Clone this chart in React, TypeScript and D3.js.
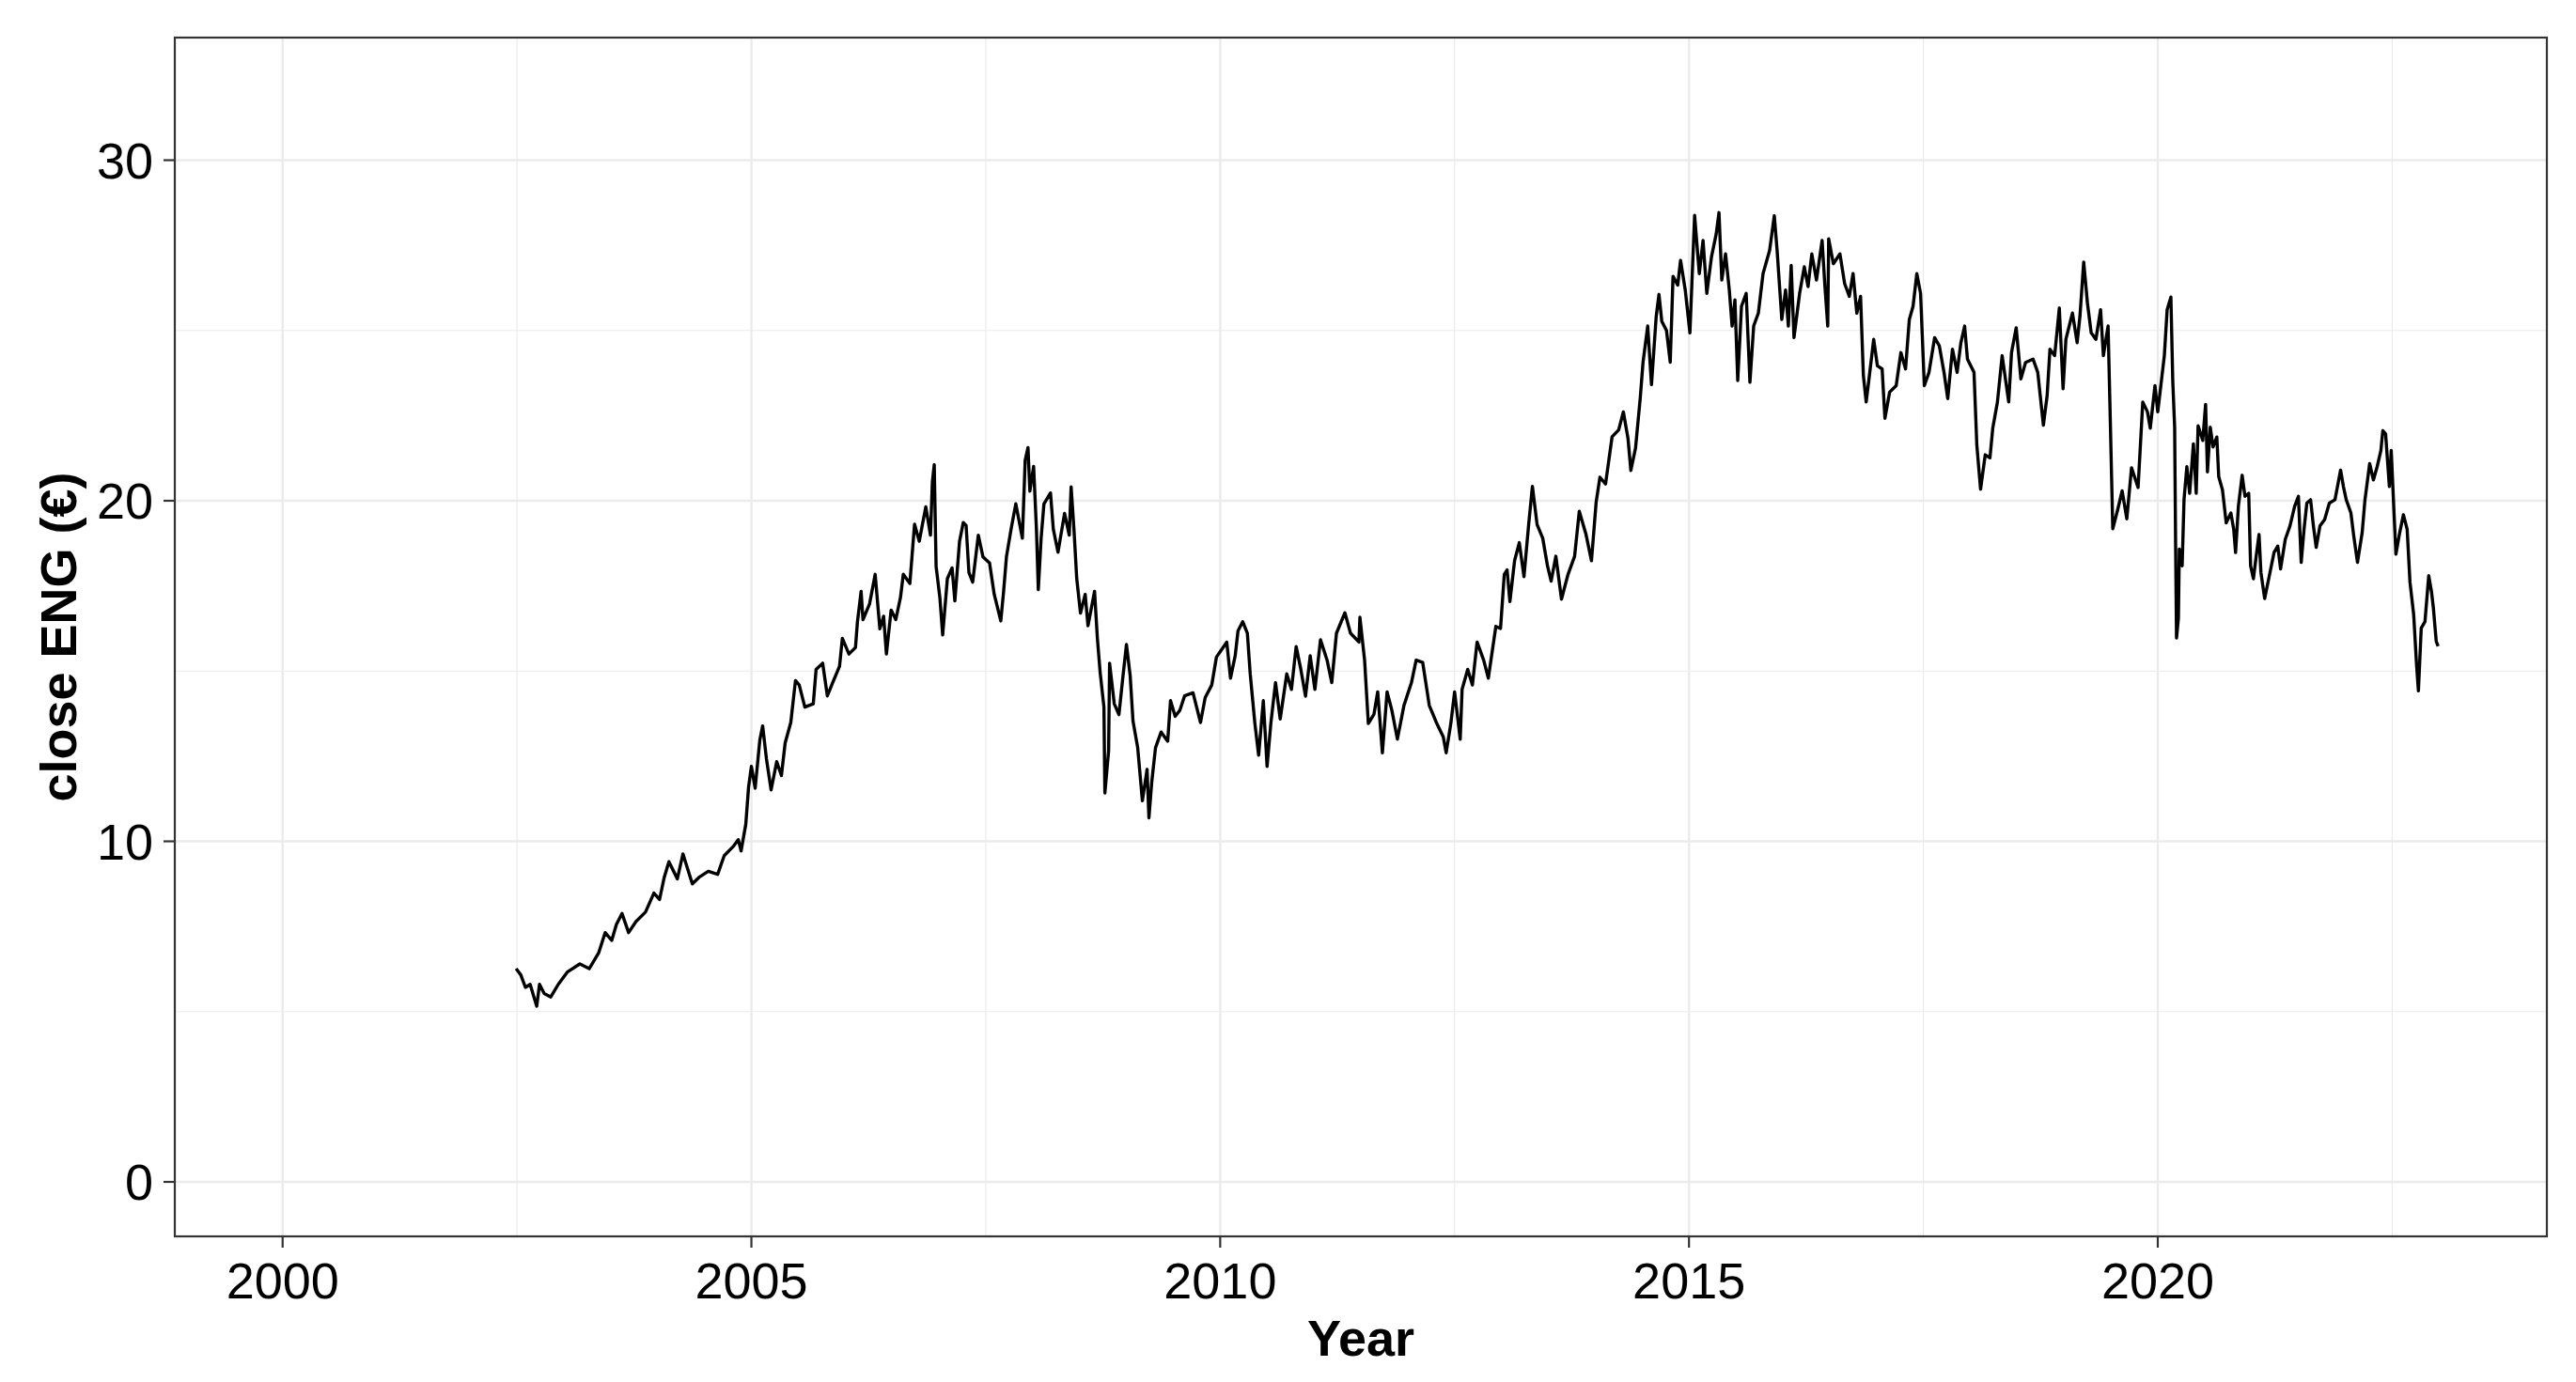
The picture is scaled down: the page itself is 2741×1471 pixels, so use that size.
import React, { useEffect, useRef } from 'react'
import * as d3 from 'd3'

// closing prices, grouped by period (decimal year, €)
const years2002 = [2002.49, 2002.54, 2002.59, 2002.64, 2002.71, 2002.74, 2002.79, 2002.86, 2002.94, 2003.04, 2003.17, 2003.27, 2003.37, 2003.44, 2003.51, 2003.56, 2003.62, 2003.69, 2003.77, 2003.87, 2003.96, 2004.02, 2004.07, 2004.12, 2004.21, 2004.27, 2004.37, 2004.44, 2004.54, 2004.64, 2004.71, 2004.81, 2004.86, 2004.89, 2004.94, 2004.97]
const close2002 = [6.26, 6.08, 5.71, 5.80, 5.16, 5.80, 5.53, 5.43, 5.80, 6.17, 6.40, 6.26, 6.72, 7.32, 7.09, 7.56, 7.88, 7.32, 7.65, 7.92, 8.48, 8.29, 8.94, 9.40, 8.90, 9.63, 8.75, 8.94, 9.12, 9.03, 9.58, 9.86, 10.05, 9.72, 10.50, 11.60]

const years2005 = [2005.00, 2005.04, 2005.09, 2005.12, 2005.16, 2005.21, 2005.27, 2005.32, 2005.36, 2005.42, 2005.47, 2005.51, 2005.57, 2005.66, 2005.69, 2005.76, 2005.81, 2005.87, 2005.94, 2005.97, 2006.04, 2006.11, 2006.13, 2006.17, 2006.19, 2006.26, 2006.32, 2006.37, 2006.41, 2006.44, 2006.49, 2006.54, 2006.59, 2006.62, 2006.69, 2006.72, 2006.74, 2006.79, 2006.86, 2006.91, 2006.93, 2006.95, 2006.97, 2007.01, 2007.04, 2007.09, 2007.14, 2007.17, 2007.22, 2007.26, 2007.29, 2007.32, 2007.36, 2007.42, 2007.47, 2007.54, 2007.59, 2007.66, 2007.69, 2007.72, 2007.77, 2007.82, 2007.89, 2007.92, 2007.95, 2007.97, 2008.01, 2008.04, 2008.06, 2008.09, 2008.12, 2008.19, 2008.22, 2008.27, 2008.34, 2008.39, 2008.41, 2008.44, 2008.47, 2008.51, 2008.56, 2008.59, 2008.66, 2008.69, 2008.72, 2008.76, 2008.77, 2008.81, 2008.82, 2008.87, 2008.92, 2008.96, 2009.00, 2009.04, 2009.07, 2009.12, 2009.17, 2009.22, 2009.24, 2009.27, 2009.31, 2009.37, 2009.44, 2009.47, 2009.52, 2009.57, 2009.62, 2009.71, 2009.79, 2009.84, 2009.91, 2009.96]
const close2005 = [12.20, 11.56, 12.98, 13.39, 12.43, 11.51, 12.34, 11.93, 12.89, 13.49, 14.72, 14.59, 13.94, 14.04, 15.05, 15.23, 14.27, 14.68, 15.14, 15.96, 15.50, 15.69, 16.42, 17.34, 16.51, 16.97, 17.84, 16.24, 16.61, 15.50, 16.79, 16.51, 17.16, 17.84, 17.57, 18.62, 19.31, 18.81, 19.82, 18.99, 20.55, 21.06, 18.07, 17.16, 16.06, 17.71, 18.03, 17.06, 18.81, 19.36, 19.27, 17.89, 17.61, 18.99, 18.35, 18.17, 17.25, 16.47, 17.34, 18.35, 19.17, 19.91, 18.90, 21.19, 21.56, 20.28, 21.01, 19.17, 17.39, 18.90, 19.91, 20.23, 19.17, 18.49, 19.63, 18.99, 20.41, 19.17, 17.71, 16.70, 17.25, 16.33, 17.34, 15.96, 14.95, 13.94, 11.42, 12.66, 15.23, 14.04, 13.72, 14.77, 15.78, 14.86, 13.53, 12.75, 11.19, 12.11, 10.69, 11.74, 12.75, 13.21, 12.94, 14.13, 13.67, 13.85, 14.27, 14.36, 13.49, 14.22, 14.59, 15.41]

const years2010 = [2010.02, 2010.07, 2010.11, 2010.16, 2010.19, 2010.24, 2010.29, 2010.32, 2010.37, 2010.41, 2010.46, 2010.50, 2010.54, 2010.59, 2010.64, 2010.71, 2010.76, 2010.81, 2010.86, 2010.91, 2010.96, 2011.01, 2011.07, 2011.14, 2011.19, 2011.24, 2011.33, 2011.39, 2011.48, 2011.49, 2011.54, 2011.58, 2011.64, 2011.68, 2011.73, 2011.78, 2011.83, 2011.89, 2011.96, 2012.04, 2012.09, 2012.16, 2012.23, 2012.31, 2012.38, 2012.41, 2012.46, 2012.50, 2012.56, 2012.58, 2012.64, 2012.69, 2012.74, 2012.81, 2012.86, 2012.94, 2012.99, 2013.03, 2013.06, 2013.09, 2013.14, 2013.19, 2013.24, 2013.29, 2013.33, 2013.38, 2013.44, 2013.49, 2013.53, 2013.58, 2013.64, 2013.71, 2013.78, 2013.83, 2013.90, 2013.96, 2014.01, 2014.05, 2014.11, 2014.18, 2014.25, 2014.30, 2014.35, 2014.38, 2014.43, 2014.48, 2014.51, 2014.56, 2014.60, 2014.65, 2014.68, 2014.71, 2014.76, 2014.80, 2014.83, 2014.88, 2014.91, 2014.96, 2015.01, 2015.06]
const close2010 = [15.65, 15.85, 14.79, 15.45, 16.18, 16.45, 16.11, 14.92, 13.46, 12.53, 14.13, 12.20, 13.46, 14.66, 13.59, 14.92, 14.46, 15.72, 15.05, 14.26, 15.45, 14.46, 15.92, 15.32, 14.66, 16.11, 16.71, 16.11, 15.85, 16.58, 15.32, 13.46, 13.73, 14.39, 12.60, 14.39, 13.86, 13.00, 13.99, 14.66, 15.32, 15.25, 13.99, 13.46, 13.06, 12.60, 13.46, 14.39, 13.00, 14.46, 15.05, 14.59, 15.85, 15.32, 14.79, 16.31, 16.25, 17.84, 17.97, 17.04, 18.24, 18.77, 17.77, 19.30, 20.42, 19.30, 18.90, 18.10, 17.64, 18.37, 17.11, 17.84, 18.37, 19.69, 19.03, 18.24, 19.96, 20.69, 20.49, 21.88, 22.08, 22.61, 21.82, 20.89, 21.55, 23.01, 24.07, 25.13, 23.41, 25.40, 26.06, 25.27, 25.00, 24.07, 26.59, 26.33, 27.06, 26.19, 24.93, 28.38]

const years2015 = [2015.11, 2015.15, 2015.19, 2015.24, 2015.29, 2015.32, 2015.35, 2015.39, 2015.43, 2015.46, 2015.49, 2015.52, 2015.56, 2015.61, 2015.65, 2015.69, 2015.74, 2015.79, 2015.86, 2015.91, 2015.94, 2015.99, 2016.03, 2016.06, 2016.09, 2016.12, 2016.18, 2016.23, 2016.27, 2016.31, 2016.36, 2016.42, 2016.45, 2016.48, 2016.49, 2016.54, 2016.61, 2016.66, 2016.71, 2016.75, 2016.79, 2016.83, 2016.86, 2016.89, 2016.92, 2016.97, 2017.01, 2017.06, 2017.09, 2017.14, 2017.21, 2017.26, 2017.31, 2017.35, 2017.39, 2017.43, 2017.47, 2017.51, 2017.56, 2017.62, 2017.67, 2017.72, 2017.76, 2017.81, 2017.86, 2017.90, 2017.94, 2017.97, 2018.04, 2018.07, 2018.11, 2018.16, 2018.21, 2018.24, 2018.29, 2018.34, 2018.41, 2018.44, 2018.49, 2018.54, 2018.59, 2018.67, 2018.72, 2018.78, 2018.82, 2018.85, 2018.90, 2018.95, 2018.99, 2019.02, 2019.09, 2019.14, 2019.17, 2019.21, 2019.25, 2019.29, 2019.34, 2019.39, 2019.42, 2019.47, 2019.49, 2019.52, 2019.57, 2019.62, 2019.67, 2019.72, 2019.79, 2019.84, 2019.89, 2019.92, 2019.97, 2020.00, 2020.07, 2020.10]
const close2015 = [26.67, 27.64, 26.09, 27.16, 27.83, 28.46, 26.48, 27.25, 26.19, 25.13, 25.90, 23.53, 25.71, 26.09, 23.48, 25.13, 25.51, 26.67, 27.35, 28.37, 27.35, 25.32, 26.19, 25.13, 26.91, 24.79, 26.09, 26.87, 26.29, 27.25, 26.48, 27.64, 26.29, 25.13, 27.69, 26.96, 27.25, 26.38, 26.00, 26.67, 25.51, 26.00, 23.68, 22.90, 23.58, 24.74, 23.96, 23.87, 22.42, 23.19, 23.38, 24.35, 23.87, 25.32, 25.71, 26.67, 26.09, 23.38, 23.77, 24.79, 24.55, 23.77, 23.00, 24.45, 23.77, 24.64, 25.13, 24.16, 23.77, 21.64, 20.34, 21.35, 21.26, 22.13, 22.90, 24.26, 22.90, 24.35, 25.08, 23.58, 24.06, 24.16, 23.77, 22.22, 23.09, 24.45, 24.26, 25.66, 23.29, 24.74, 25.51, 24.64, 25.42, 27.01, 25.80, 24.93, 24.74, 25.61, 24.26, 25.13, 22.80, 19.18, 19.71, 20.29, 19.47, 20.97, 20.39, 22.90, 22.61, 22.13, 23.38, 22.61, 24.26, 25.61]

const years2020 = [2020.14, 2020.16, 2020.18, 2020.19, 2020.20, 2020.22, 2020.23, 2020.26, 2020.28, 2020.31, 2020.34, 2020.38, 2020.41, 2020.43, 2020.48, 2020.51, 2020.53, 2020.56, 2020.59, 2020.63, 2020.65, 2020.69, 2020.73, 2020.78, 2020.81, 2020.83, 2020.86, 2020.90, 2020.93, 2020.97, 2020.99, 2021.02, 2021.05, 2021.08, 2021.10, 2021.14, 2021.19, 2021.24, 2021.28, 2021.31, 2021.36, 2021.41, 2021.46, 2021.50, 2021.53, 2021.56, 2021.59, 2021.63, 2021.66, 2021.69, 2021.73, 2021.78, 2021.83, 2021.89, 2021.95, 2021.98, 2022.01, 2022.06, 2022.09, 2022.13, 2022.18, 2022.21, 2022.26, 2022.30, 2022.34, 2022.38, 2022.40, 2022.43, 2022.47, 2022.49, 2022.52, 2022.54, 2022.58, 2022.62, 2022.66, 2022.69, 2022.73, 2022.76, 2022.78, 2022.81, 2022.85, 2022.89, 2022.92, 2022.94, 2022.97, 2022.99]
const close2020 = [25.98, 23.51, 22.16, 18.77, 15.97, 16.55, 18.58, 18.09, 20.03, 21.00, 20.22, 21.67, 20.22, 22.20, 21.77, 22.83, 20.85, 22.16, 21.58, 21.87, 20.71, 20.32, 19.35, 19.64, 19.16, 18.48, 19.84, 20.75, 20.13, 20.22, 18.09, 17.71, 18.38, 19.01, 17.90, 17.13, 17.80, 18.48, 18.67, 18.00, 18.87, 19.26, 19.84, 20.13, 18.19, 19.16, 19.93, 20.03, 19.26, 18.63, 19.26, 19.45, 19.93, 20.03, 20.90, 20.42, 20.03, 19.64, 18.97, 18.19, 19.06, 20.03, 21.09, 20.61, 21.00, 21.48, 22.06, 21.96, 20.42, 21.48, 19.64, 18.43, 19.06, 19.59, 19.16, 17.61, 16.64, 15.19, 14.42, 16.26, 16.45, 17.80, 17.32, 16.84, 15.87, 15.73]

const xTicks = [2000, 2005, 2010, 2015, 2020]
const xMinor = [2002.5, 2007.5, 2012.5, 2017.5, 2022.5]
const yTicks = [0, 10, 20, 30]
const yMinor = [5, 15, 25]
const xTitle = 'Year'
const yTitle = 'close ENG (€)'

export default function App() {
    const chart = useRef<SVGSVGElement>(null)

    useEffect(() => {
        const width = 2741
        const height = 1471
        const left = 186, right = 2710, top = 40, bottom = 1316
        const font = "'Liberation Sans', Arial, Helvetica, sans-serif"

        const svg = d3.select(chart.current)
        svg.selectAll('*').remove()
        svg.attr('width', width).attr('height', height)

        const x = d3.scaleLinear().domain([1998.85, 2024.15]).range([left, right])
        const y = d3.scaleLinear().domain([-1.6, 33.6]).range([bottom, top])

        // panel background
        svg.append('rect')
            .attr('x', left).attr('y', top)
            .attr('width', right - left).attr('height', bottom - top)
            .attr('fill', 'white')

        // minor grid
        svg.selectAll('line.ym').data(yMinor).join('line')
            .attr('x1', left).attr('x2', right)
            .attr('y1', d => y(d)).attr('y2', d => y(d))
            .attr('stroke', '#ebebeb').attr('stroke-width', 1.2)
        svg.selectAll('line.xm').data(xMinor).join('line')
            .attr('y1', top).attr('y2', bottom)
            .attr('x1', d => x(d)).attr('x2', d => x(d))
            .attr('stroke', '#ebebeb').attr('stroke-width', 1.2)

        // major grid
        svg.selectAll('line.yg').data(yTicks).join('line')
            .attr('x1', left).attr('x2', right)
            .attr('y1', d => y(d)).attr('y2', d => y(d))
            .attr('stroke', '#ebebeb').attr('stroke-width', 2.4)
        svg.selectAll('line.xg').data(xTicks).join('line')
            .attr('y1', top).attr('y2', bottom)
            .attr('x1', d => x(d)).attr('x2', d => x(d))
            .attr('stroke', '#ebebeb').attr('stroke-width', 2.4)

        // the price line
        const series = [
            ...d3.zip(years2002, close2002),
            ...d3.zip(years2005, close2005),
            ...d3.zip(years2010, close2010),
            ...d3.zip(years2015, close2015),
            ...d3.zip(years2020, close2020),
        ]
        const line = d3.line<number[]>()
            .x(d => x(d[0]))
            .y(d => y(d[1]))
        svg.append('path')
            .datum(series)
            .attr('d', line)
            .attr('fill', 'none')
            .attr('stroke', 'black')
            .attr('stroke-width', 3.4)
            .attr('stroke-linejoin', 'round')

        // panel border
        svg.append('rect')
            .attr('x', left).attr('y', top)
            .attr('width', right - left).attr('height', bottom - top)
            .attr('fill', 'none')
            .attr('stroke', '#333333').attr('stroke-width', 2.2)

        // y axis ticks + labels
        svg.selectAll('line.yt').data(yTicks).join('line')
            .attr('x1', left - 12).attr('x2', left)
            .attr('y1', d => y(d)).attr('y2', d => y(d))
            .attr('stroke', '#333333').attr('stroke-width', 2.2)
        svg.selectAll('text.yl').data(yTicks).join('text')
            .attr('x', left - 23)
            .attr('y', d => y(d))
            .attr('dy', '0.36em')
            .attr('text-anchor', 'end')
            .attr('font-family', font)
            .attr('font-size', 54)
            .attr('fill', 'black')
            .text(d => d)

        // x axis ticks + labels
        svg.selectAll('line.xt').data(xTicks).join('line')
            .attr('y1', bottom).attr('y2', bottom + 12)
            .attr('x1', d => x(d)).attr('x2', d => x(d))
            .attr('stroke', '#333333').attr('stroke-width', 2.2)
        svg.selectAll('text.xl').data(xTicks).join('text')
            .attr('x', d => x(d))
            .attr('y', 1382)
            .attr('text-anchor', 'middle')
            .attr('font-family', font)
            .attr('font-size', 54)
            .attr('fill', 'black')
            .text(d => d)

        // axis titles
        svg.append('text')
            .attr('x', (left + right) / 2)
            .attr('y', 1443)
            .attr('text-anchor', 'middle')
            .attr('font-family', font)
            .attr('font-weight', 'bold')
            .attr('font-size', 54)
            .text(xTitle)
        svg.append('text')
            .attr('transform', `translate(81,${(top + bottom) / 2}) rotate(-90)`)
            .attr('text-anchor', 'middle')
            .attr('font-family', font)
            .attr('font-weight', 'bold')
            .attr('font-size', 54)
            .text(yTitle)
    }, [])

    return (
        <svg ref={chart} style={{ position: 'absolute', left: 0, top: 0, background: 'white' }}></svg>
    )
}
